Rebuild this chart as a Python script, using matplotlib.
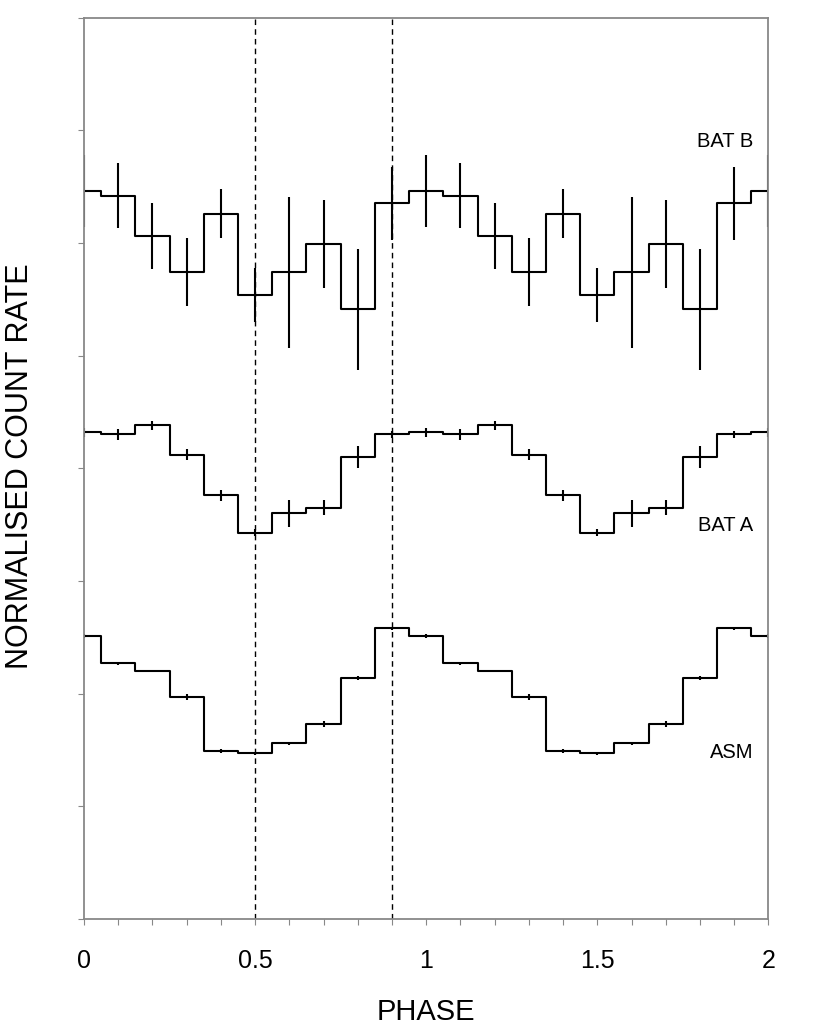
import numpy as np
import matplotlib
matplotlib.use("Agg")
import matplotlib.pyplot as plt
from matplotlib.ticker import MultipleLocator, FixedLocator

plt.rcParams['font.family'] = ['Liberation Sans', 'DejaVu Sans']

# one cycle of the folded light curves, bins centred on phase 0.0 .. 0.9
phase_bins = np.arange(0.0, 1.0, 0.1)

bat_b = [6.46, 6.42, 6.06, 5.74, 6.26, 5.54, 5.74, 5.99, 5.41, 6.35]
bat_b_err = [0.32, 0.29, 0.29, 0.30, 0.22, 0.24, 0.67, 0.39, 0.54, 0.32]

bat_a = [4.32, 4.30, 4.38, 4.12, 3.76, 3.43, 3.60, 3.65, 4.10, 4.30]
bat_a_err = [0.04, 0.05, 0.04, 0.05, 0.05, 0.035, 0.12, 0.065, 0.095, 0.035]

asm = [2.51, 2.27, 2.20, 1.97, 1.49, 1.47, 1.56, 1.73, 2.14, 2.58]
asm_err = [0.015, 0.015, 0.012, 0.025, 0.015, 0.012, 0.015, 0.025, 0.015, 0.012]

labels = ['BAT B', 'BAT A', 'ASM']
label_y = [6.90, 3.49, 1.48]
marker_phases = [0.5, 0.9]


def two_cycles(v):
    # repeat the profile over phase 0-2, closing on the first bin
    v = np.asarray(v, dtype=float)
    return np.concatenate([v, v, v[:1]])


x = np.concatenate([phase_bins, phase_bins + 1, [2.0]])

fig = plt.figure(figsize=(8.3, 10.31), dpi=100)
ax = fig.add_axes([0.1012, 0.1086, 0.8247, 0.8744])

for vals, errs in [(bat_b, bat_b_err), (bat_a, bat_a_err), (asm, asm_err)]:
    y = two_cycles(vals)
    ax.step(x, y, where='mid', color='black', lw=1.5)
    ax.errorbar(x, y, yerr=two_cycles(errs), fmt='none', ecolor='black',
                elinewidth=1.5, capsize=0)

for p in marker_phases:
    ax.axvline(p, color='black', lw=1.0, ls=(0, (4, 3)))

for lab, ly in zip(labels, label_y):
    ax.text(1.955, ly, lab, ha='right', va='center', fontsize=14.5)

ax.set_xlim(0, 2)
ax.set_ylim(0, 8)

#Ticks and spines
ax.xaxis.set_major_locator(FixedLocator([0, 0.5, 1, 1.5, 2]))
ax.xaxis.set_minor_locator(MultipleLocator(0.1))
ax.set_xticklabels(['0', '0.5', '1', '1.5', '2'])
ax.yaxis.set_major_locator(MultipleLocator(1))
ax.set_yticklabels([])
ax.tick_params(which='both', direction='out', length=4.5, width=0.8,
               color='#888888', top=False, right=False)
ax.tick_params(axis='x', which='major', pad=17, labelsize=18)
for sp in ax.spines.values():
    sp.set_color('#888888')
    sp.set_linewidth(1.3)

ax.set_xlabel('PHASE', fontsize=21, labelpad=18)
fig.text(0.024, 0.548, 'NORMALISED COUNT RATE', rotation=90,
         ha='center', va='center', fontsize=22)

fig.savefig('out.png', dpi=100)
